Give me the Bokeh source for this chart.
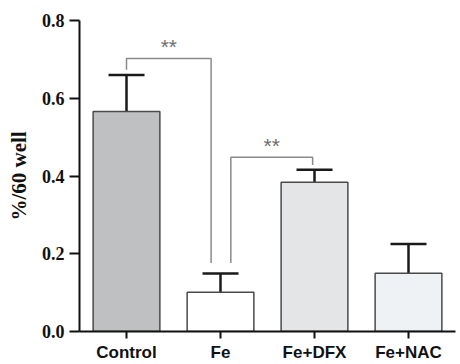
from bokeh.plotting import figure
from bokeh.models import ColumnDataSource, Range1d, FixedTicker, Whisker, TeeHead
from bokeh.embed import file_html
from bokeh.resources import INLINE
from bokeh.core.properties import value

# ---- data ----
categories = ["Control", "Fe", "Fe+DFX", "Fe+NAC"]
means = [0.566, 0.101, 0.384, 0.150]
errors = [0.094, 0.048, 0.032, 0.075]
fills = ["#bfc0c2", "#ffffff", "#e3e5e7", "#eff2f4"]

# significance brackets: (left x, right x, bar height, left foot, right foot, label)
sig_left_x = [0.0, 1.11]
sig_right_x = [0.90, 1.98]
sig_top = [0.702, 0.448]
sig_left_foot = [0.673, 0.176]
sig_right_foot = [0.176, 0.428]
sig_labels = ["**", "**"]

xs = list(range(len(categories)))
src = ColumnDataSource(dict(
    x=xs, top=means, fill=fills,
    upper=[m + e for m, e in zip(means, errors)], lower=means,
))

p = figure(width=460, height=364, output_backend="svg", toolbar_location=None,
           x_range=Range1d(-0.5, 3.5), y_range=Range1d(0, 0.8),
           min_border_left=79, min_border_top=20, min_border_right=5,
           min_border_bottom=28)
p.outline_line_color = None
p.xgrid.grid_line_color = None
p.ygrid.grid_line_color = None

p.vbar(x="x", top="top", width=0.71, bottom=0, source=src,
       fill_color="fill", line_color="#4a4a4a", line_width=1.5)

w = Whisker(base="x", upper="upper", lower="lower", source=src,
            line_color="#1a1a1a", line_width=2.5,
            upper_head=TeeHead(size=36, line_color="#1a1a1a", line_width=2.5),
            lower_head=None)
p.add_layout(w)

# brackets
bx, by = [], []
for lx, rx, t, lf, rf in zip(sig_left_x, sig_right_x, sig_top, sig_left_foot, sig_right_foot):
    bx.append([lx, lx, rx, rx])
    by.append([lf, t, t, rf])
p.multi_line(xs=bx, ys=by, line_color="#8a8a8a", line_width=1.5)
p.text(x=[(a + b) / 2 for a, b in zip(sig_left_x, sig_right_x)],
       y=[t + 0.002 for t in sig_top], text=sig_labels,
       text_align="center", text_baseline="bottom",
       text_font=value("Liberation Sans"), text_font_size="21px",
       text_color="#6e6e6e")

# axes
p.xaxis.ticker = FixedTicker(ticks=xs)
p.xaxis.major_label_overrides = {i: c for i, c in enumerate(categories)}
p.xaxis.major_label_text_font = "Liberation Sans"
p.xaxis.major_label_text_font_style = "bold"
p.xaxis.major_label_text_font_size = "17px"
p.xaxis.major_label_text_color = "#111111"
p.xaxis.major_tick_out = 7
p.xaxis.major_tick_in = 0
p.xaxis.minor_tick_line_color = None
p.xaxis.major_label_standoff = 4
p.xaxis.axis_line_width = 2
p.xaxis.major_tick_line_width = 2
p.xaxis.axis_line_color = "#111111"
p.xaxis.major_tick_line_color = "#111111"

p.yaxis.ticker = FixedTicker(ticks=[0.0, 0.2, 0.4, 0.6, 0.8])
p.yaxis.major_label_overrides = {0.0: "0.0", 0.2: "0.2", 0.4: "0.4", 0.6: "0.6", 0.8: "0.8"}
p.yaxis.major_label_text_font = "Liberation Serif"
p.yaxis.major_label_text_font_style = "bold"
p.yaxis.major_label_text_font_size = "18px"
p.yaxis.major_label_text_color = "#111111"
p.yaxis.major_tick_out = 10
p.yaxis.major_tick_in = 0
p.yaxis.minor_tick_line_color = None
p.yaxis.major_label_standoff = 5
p.yaxis.axis_line_width = 2
p.yaxis.major_tick_line_width = 2
p.yaxis.axis_line_color = "#111111"
p.yaxis.major_tick_line_color = "#111111"
p.yaxis.axis_label = "%/60 well"
p.yaxis.axis_label_text_font = "Liberation Serif"
p.yaxis.axis_label_text_font_style = "bold"
p.yaxis.axis_label_text_font_size = "21px"
p.yaxis.axis_label_text_color = "#111111"
p.yaxis.axis_label_standoff = 8

open("out.html", "w").write(file_html(p, INLINE))
